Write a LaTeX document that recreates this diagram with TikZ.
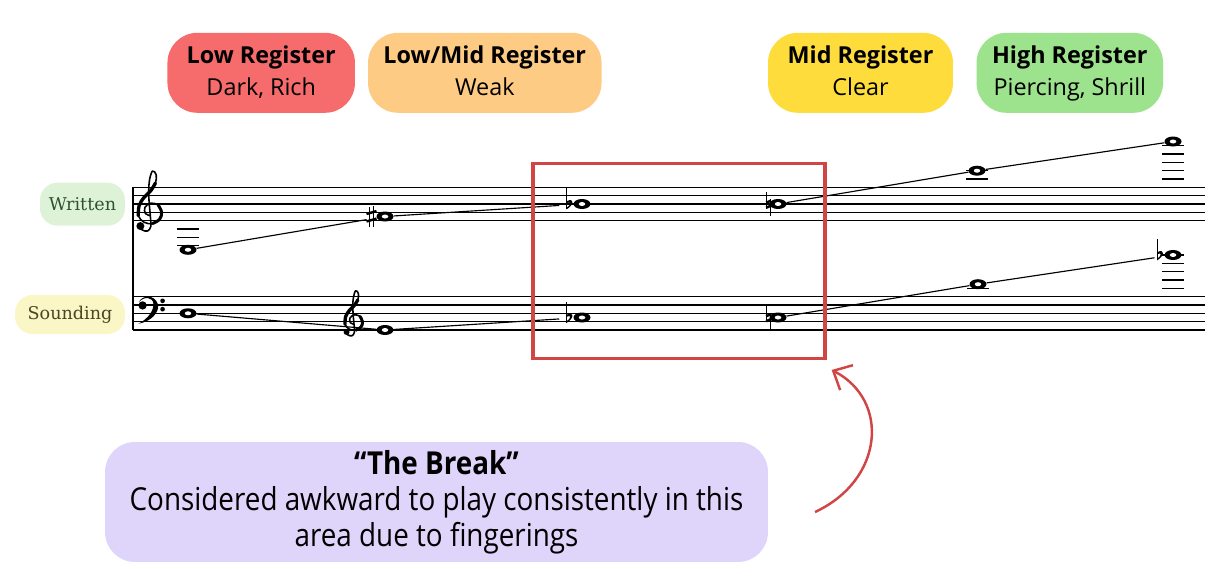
\documentclass[tikz,border=0pt]{standalone}
\usepackage{fontspec}
\newfontfamily\canvafont{Open Sans}
\newfontfamily\breakfont[FakeStretch=0.88]{Open Sans}
\newfontfamily\staffnamefont{DejaVu Serif}
\usetikzlibrary{positioning,arrows.meta,calc,shapes.geometric}
\definecolor{lowred}{HTML}{F66B6B}
\definecolor{lowmidorange}{HTML}{FECB84}
\definecolor{midyellow}{HTML}{FDDC3C}
\definecolor{highgreen}{HTML}{9DE28C}
\definecolor{breakpurple}{HTML}{DFD4FA}
\definecolor{breakred}{HTML}{D14545}
\definecolor{writtenbg}{HTML}{DDF2D6}
\definecolor{writtentext}{HTML}{2E5234}
\definecolor{soundbg}{HTML}{FBF6C6}
\definecolor{soundtext}{HTML}{4A4524}

\tikzset{
  gclef/.pic={
    \begin{scope}[x=0.1667cm,y=0.1667cm]
      \draw[line width=0.9pt, line cap=round, line join=round]
        plot[smooth, tension=0.6] coordinates {(-1.05,-1.55) (-0.75,-2.1) (-0.1,-2.25) (0.3,-1.7)
          (0.25,-0.5) (0.1,1.2) (0.05,2.6) (0.15,3.9) (0.5,4.95) (0.95,4.5) (0.85,3.5)
          (0.3,2.6) (-0.5,1.8) (-1.1,0.8) (-1.2,-0.4) (-0.5,-1.2) (0.5,-1.35) (1.35,-0.85)
          (1.6,0.0) (1.2,0.85) (0.3,1.1) (-0.4,0.6) (-0.35,-0.15) (0.25,-0.4)};
      \draw[line width=1.9pt, line cap=round]
        plot[smooth, tension=0.6] coordinates {(0.85,3.5) (0.3,2.6) (-0.5,1.8) (-1.1,0.8) (-1.2,-0.4)};
      \draw[line width=1.7pt, line cap=round]
        plot[smooth, tension=0.6] coordinates {(0.5,-1.35) (1.35,-0.85) (1.6,0.0) (1.2,0.85)};
      \fill (-0.95,-1.65) circle (0.48);
    \end{scope}
  },
  fclef/.pic={
    \begin{scope}[x=0.1667cm,y=0.1667cm]
      \fill (0.55,-0.05) circle (0.5);
      \fill (0.1,0.35) .. controls (0.5,1.2) and (1.9,1.3) .. (2.35,0.2)
        .. controls (2.7,-0.9) and (1.5,-2.0) .. (0.05,-2.25)
        .. controls (1.3,-1.6) and (1.9,-0.6) .. (1.85,0.15)
        .. controls (1.8,1.0) and (0.7,1.05) .. (0.1,0.35) -- cycle;
      \fill (2.95,0.5) circle (0.28) (2.95,-0.5) circle (0.28);
    \end{scope}
  },
  sharpsign/.pic={
    \begin{scope}[x=0.1667cm,y=0.1667cm]
      \draw[line width=0.5pt] (-0.28,-1.3) -- (-0.28,1.2) (0.28,-1.2) -- (0.28,1.3);
      \draw[line width=1.4pt] (-0.6,-0.6) -- (0.6,-0.25) (-0.6,0.3) -- (0.6,0.65);
    \end{scope}
  },
  flatsign/.pic={
    \begin{scope}[x=0.1667cm,y=0.1667cm]
      \draw[line width=0.55pt] (0,1.9) -- (0,-0.65);
      \fill (0,-0.65) .. controls (0.95,-0.1) and (0.95,0.8) .. (0.05,0.35) -- (0.05,0.1)
        .. controls (0.6,0.4) and (0.55,-0.15) .. (0,-0.45) -- cycle;
    \end{scope}
  },
  naturalsign/.pic={
    \begin{scope}[x=0.1667cm,y=0.1667cm]
      \draw[line width=0.55pt] (-0.28,1.45) -- (-0.28,-0.55) (0.28,0.55) -- (0.28,-1.45);
      \draw[line width=1.4pt] (-0.28,0.15) -- (0.28,0.4) (-0.28,-0.45) -- (0.28,-0.2);
    \end{scope}
  }
}

\begin{document}
\begin{tikzpicture}[x=0.02cm, y=-0.02cm,
  register/.style={rounded corners=17pt, minimum height=1.6cm, inner sep=0pt, align=center,
    font=\canvafont\fontsize{13.3}{18.3}\selectfont},
  staffname/.style={rounded corners=10pt, inner sep=0pt, font=\staffnamefont\fontsize{10}{12}\selectfont},
  breaknote/.style={rounded corners=17pt, fill=breakpurple, minimum width=13.26cm,
    minimum height=2.4cm, inner sep=0pt, align=center, font=\breakfont\fontsize{18}{20.5}\selectfont},
  breakbox/.style={draw=breakred, line width=1.9pt, minimum width=5.84cm, minimum height=3.9cm},
  breakarrow/.style={draw=breakred, line width=1.4pt, -{Straight Barb[length=3mm, width=5.6mm]}},
  whole/.style={ellipse, fill=black, inner sep=0pt, minimum width=0.34cm, minimum height=0.2cm,
    path picture={\fill[white, rotate around={60:(path picture bounding box.center)}]
      (path picture bounding box.center) ellipse [x radius=0.065cm, y radius=0.04cm];}},
  staffline/.style={line width=0.7pt},
  ledger/.style={line width=0.7pt},
  gliss/.style={line width=0.65pt}]

  \fill[white] (0,0) rectangle (1231,585);
  \useasboundingbox (0,0) rectangle (1231,585);

  % register labels
  \node[register, fill=lowred, minimum width=3.75cm] (lowreg) at (261.2,72.8)
    {\strut\textbf{Low Register}\\\strut Dark, Rich};
  \node[register, fill=lowmidorange, minimum width=4.67cm] (lowmidreg) at (484.8,72.8)
    {\strut\textbf{Low/Mid Register}\\\strut Weak};
  \node[register, fill=midyellow, minimum width=3.7cm] (midreg) at (860.5,72.8)
    {\strut\textbf{Mid Register}\\\strut Clear};
  \node[register, fill=highgreen, minimum width=3.73cm] (highreg) at (1069.8,72.8)
    {\strut\textbf{High Register}\\\strut Piercing, Shrill};

  % staff names
  \node[staffname, fill=writtenbg, text=writtentext, minimum width=1.7cm, minimum height=0.86cm]
    (written) at (82.5,204.2) {Written};
  \node[staffname, fill=soundbg, text=soundtext, minimum width=2.2cm, minimum height=0.78cm]
    (sounding) at (70,314.5) {Sounding};

  % staves
  \foreach \k in {0,...,4} {
    \draw[staffline] (133,{187.3+8.33*\k}) -- (1205,{187.3+8.33*\k});
    \draw[staffline] (133,{296.7+8.33*\k}) -- (1205,{296.7+8.33*\k});
  }
  \draw[line width=1.1pt] (133,187.3) -- (133,330);

  % ledger lines
  \foreach \x/\y in {188/229.0, 188/237.3, 188/245.6, 977/179.0, 977/170.7,
      1173/179.0, 1173/170.7, 1173/162.3, 1173/154.0, 1173/145.7,
      978/288.3, 1173/288.3, 1173/280.0, 1173/271.7, 1173/263.3, 1173/255.0}
    \draw[ledger] ({\x-11},\y) -- ({\x+11},\y);

  % clefs
  \pic at (148.3,212.3) {gclef};
  \pic at (138,305) {fclef};
  \pic[scale=0.75] at (352.5,321.7) {gclef};

  % written notes
  \node[whole] (w1) at (188,249.8) {};
  \node[whole] (w2) at (385,216.5) {};
  \node[whole] (w3) at (582,204) {};
  \node[whole] (w4) at (778,204) {};
  \node[whole] (w5) at (977,170.7) {};
  \node[whole] (w6) at (1173,141.5) {};

  % sounding notes
  \node[whole] (s1) at (188,313.3) {};
  \node[whole] (s2) at (385,330) {};
  \node[whole] (s3) at (582,317.5) {};
  \node[whole] (s4) at (778,317.5) {};
  \node[whole] (s5) at (978,284.2) {};
  \node[whole] (s6) at (1173,255) {};

  % accidentals
  \pic at (371.5,216.5) {sharpsign};
  \pic at (566.5,204) {flatsign};
  \pic at (566.5,317.5) {flatsign};
  \pic at (768.5,204) {naturalsign};
  \pic at (768.5,317.5) {naturalsign};
  \pic at (1157,255) {flatsign};

  % glissandi
  \draw[gliss, shorten >=0.2cm] (w1) -- (w2);
  \draw[gliss, shorten >=0.28cm] (w2) -- (w3);
  \draw[gliss] (w4) -- (w5);
  \draw[gliss] (w5) -- (w6);
  \draw[gliss] (s1) -- (s2);
  \draw[gliss, shorten >=0.28cm] (s2) -- (s3);
  \draw[gliss] (s4) -- (s5);
  \draw[gliss, shorten >=0.2cm] (s5) -- (s6);

  % the break
  \node[breakbox] (brk) at (679,260.8) {};
  \node[breaknote] (breaktext) at (436.5,502)
    {\textbf{“The Break”}\\Considered awkward to play consistently in this\\area due to fingerings};
  \coordinate (arrtail) at (815,512);
  \draw[breakarrow] (arrtail) .. controls (884,480) and (890,400) .. ($(brk.south east)+(5,10)$);
\end{tikzpicture}
\end{document}
